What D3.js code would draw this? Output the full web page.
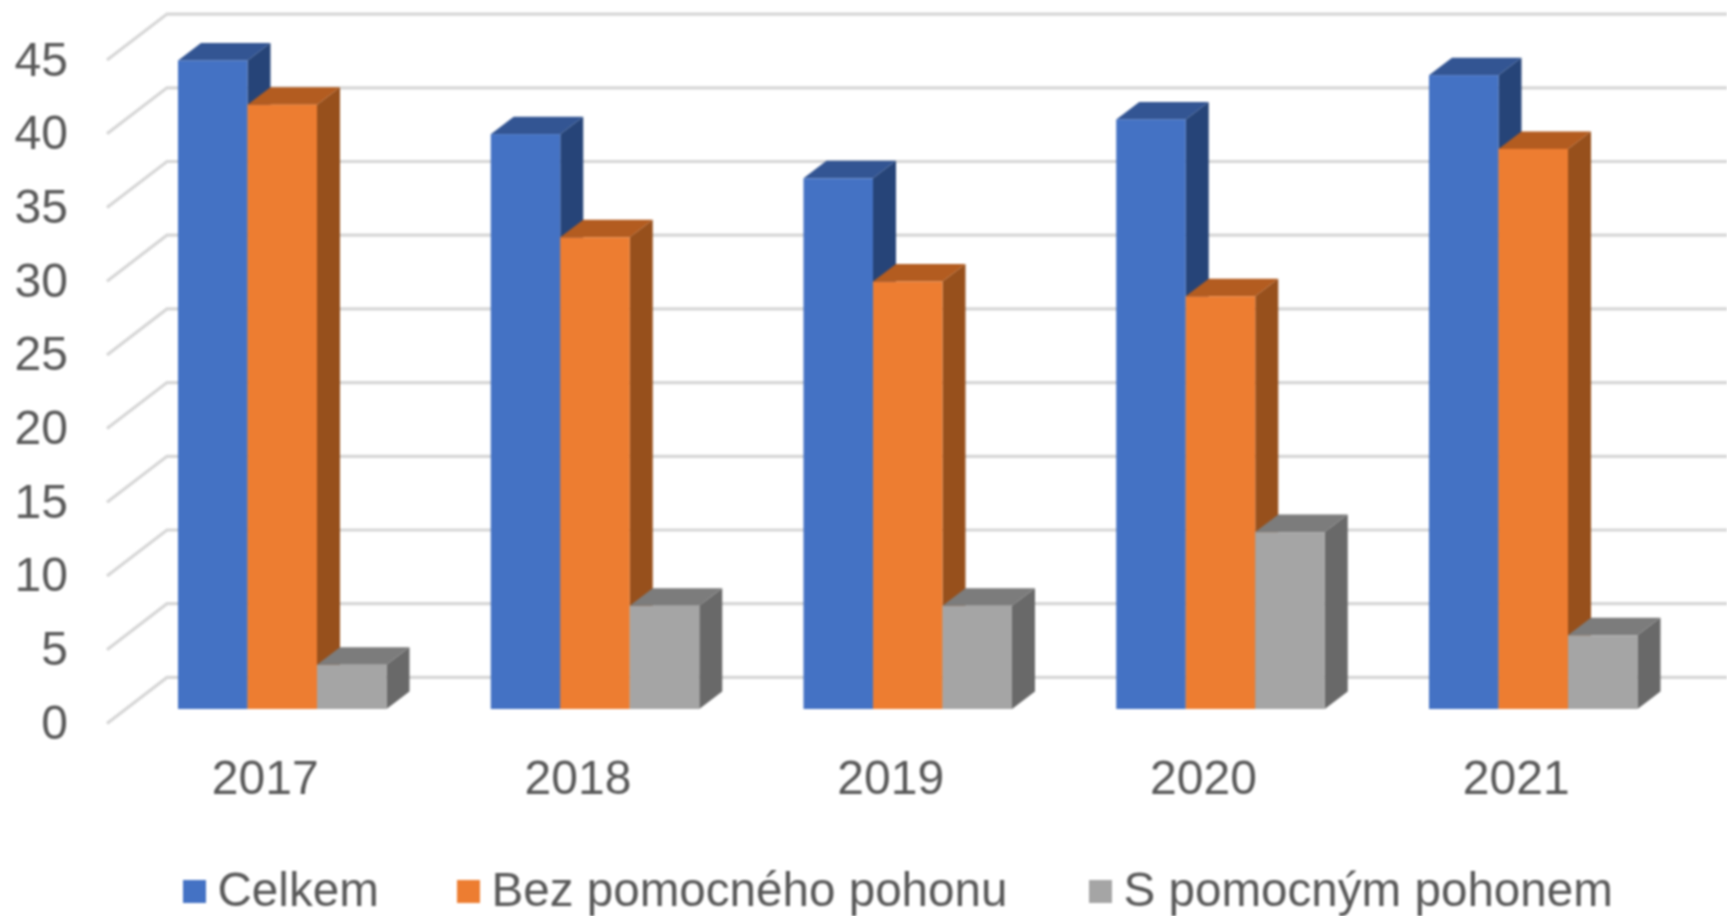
<!DOCTYPE html>
<html>
<head>
<meta charset="utf-8">
<script src="https://cdn.jsdelivr.net/npm/d3@7/dist/d3.min.js"></script>
<style>
html,body{margin:0;padding:0;background:#fff;overflow:hidden}
svg{display:block;filter:blur(0.8px)}
text{font-family:"Liberation Sans",Arial,sans-serif;fill:#595959}
</style>
</head>
<body>
<svg id="c" width="1727" height="916"></svg>
<script>
const years = ["2017","2018","2019","2020","2021"];
const celkem = [44,39,36,40,43];
const bezPohonu = [41,32,29,28,38];
const sPohonem = [3,7,7,12,5];
const seriesNames = ["Celkem","Bez pomocného pohonu","S pomocným pohonem"];
const seriesValues = [celkem,bezPohonu,sPohonem];
const yTicks = [0,5,10,15,20,25,30,35,40,45];
const frontColors = ["#4472c4","#ed7d31","#a5a5a5"];
const topColors = ["#335593","#b35c20","#7c7c7c"];
const sideColors = ["#264478","#97501c","#696969"];

const svg = d3.select("#c");
const W = 1727;
const y = d3.scaleLinear().domain([0,45]).range([709,45.7]);
const x0 = d3.scaleBand().domain(years).range([178,178+4*312.75+208.5]).paddingInner(0.3333).paddingOuter(0).align(0);
const x1 = d3.scaleBand().domain(d3.range(3)).range([0,208.5]);

// walls: gridlines at the back, diagonal along the side wall
const wallDx = 60, wallDy = -46, wallOffY = 14, gridOffY = 14.4, wallX = 107;
const grid = svg.append("g").attr("fill","none").attr("stroke","#d6d6d6").attr("stroke-width",3.2);
grid.selectAll("path").data(yTicks).join("path")
  .attr("d",v=>{
    const p = d3.path();
    const fy = y(v)+gridOffY;
    p.moveTo(wallX,fy);
    p.lineTo(wallX+wallDx,fy+wallDy);
    p.lineTo(W,fy+wallDy);
    return p.toString();
  });

// bars
const barDx = 23, barDy = -17.5;
const poly = pts => "M"+pts.map(p=>p.join(",")).join("L")+"Z";
years.forEach((yr,i)=>{
  const g = svg.append("g");
  seriesValues.forEach((vals,s)=>{
    const l = x0(yr)+x1(s), r = l+x1.bandwidth(), t = y(vals[i]), b = y(0);
    g.append("path").attr("fill",sideColors[s])
      .attr("d",poly([[r,t],[r+barDx,t+barDy],[r+barDx,b+barDy],[r,b]]));
    g.append("path").attr("fill",topColors[s])
      .attr("d",poly([[l,t],[l+barDx,t+barDy],[r+barDx,t+barDy],[r,t]]));
    g.append("rect").attr("fill",frontColors[s])
      .attr("x",l).attr("y",t).attr("width",x1.bandwidth()).attr("height",b-t);
  });
});

// axes
const yAxis = svg.append("g").attr("transform","translate(68,"+wallOffY+")")
  .call(d3.axisLeft(y).tickValues(yTicks).tickSize(0).tickPadding(0));
yAxis.select(".domain").remove();
yAxis.selectAll("text").attr("font-size",48).style("font-family",'"Liberation Sans",Arial,sans-serif').style("fill","#595959");

const xAxis = svg.append("g").attr("transform","translate(-17,760)")
  .call(d3.axisBottom(x0).tickSize(0).tickPadding(0));
xAxis.select(".domain").remove();
xAxis.selectAll("text").attr("font-size",48).attr("dy","0.71em").style("font-family",'"Liberation Sans",Arial,sans-serif').style("fill","#595959");

// legend
const legX = d3.scaleOrdinal().domain(seriesNames).range([183,457,1089]);
const leg = svg.append("g").selectAll("g").data(seriesNames).join("g")
  .attr("transform",d=>"translate("+legX(d)+",880)");
leg.append("rect").attr("width",23).attr("height",23).attr("fill",(d,i)=>frontColors[i]);
leg.append("text").attr("x",34.5).attr("y",9).attr("dy","0.36em").attr("font-size",47.6).text(d=>d);
</script>
</body>
</html>
